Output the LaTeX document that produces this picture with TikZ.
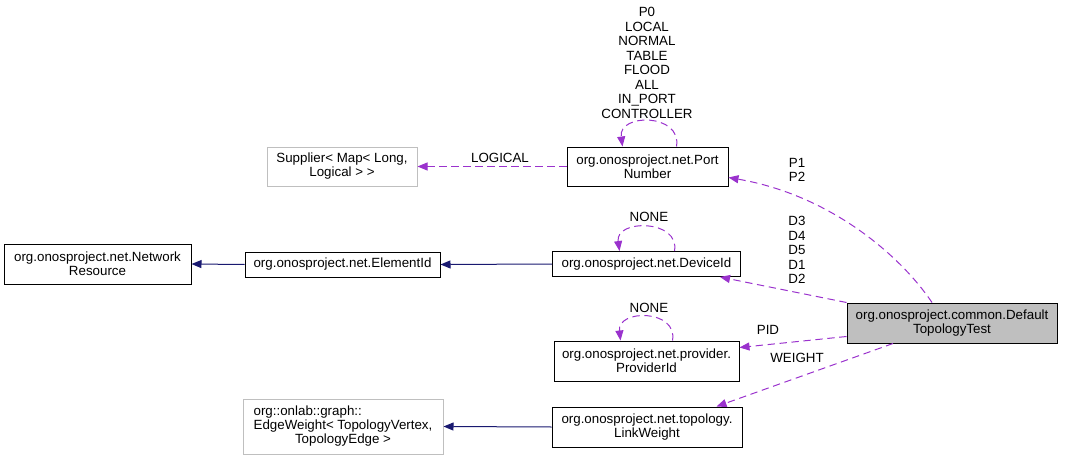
\documentclass[tikz,border=0pt]{standalone}
\usepackage{fontspec}
\setmainfont{Liberation Sans}
\usepackage{tikz}
\usetikzlibrary{arrows.meta}

\definecolor{usecol}{HTML}{9A32CD}
\definecolor{inhcol}{HTML}{191970}
\definecolor{extcol}{HTML}{BFBFBF}
\newcommand{\px}{0.75pt}

\begin{document}
\begin{tikzpicture}[
			x=0.75pt, y=-0.75pt,
			font=\fontsize{10}{10.5}\selectfont,
			classbox/.style={draw, rectangle, fill=white, align=center, inner sep=0pt, line width=0.75pt},
			extbox/.style={classbox, draw=extcol},
			curbox/.style={classbox, fill=extcol},
			inherit/.style={draw=inhcol, line width=0.75pt, -{Triangle[length=7.5pt,width=6pt]}},
			uses/.style={draw=usecol, line width=0.75pt, dash pattern=on 5.5pt off 3.5pt, -{Triangle[length=7.5pt,width=6pt]}},
			lbl/.style={align=center, inner sep=0pt, font=\fontsize{10}{10.9}\selectfont}
			]
			\useasboundingbox (0,0) rectangle (1067,460);

			% classes
			\node[classbox, minimum width=161*\px, minimum height=39*\px] (port) at (647.5,166.5) {org.onosproject.net.Port\\Number};
			\node[extbox, minimum width=150*\px, minimum height=39*\px] (supp) at (342,166.5) {Supplier< Map< Long,\\Logical > >};
			\node[classbox, minimum width=187*\px, minimum height=40*\px] (netres) at (97.5,264) {org.onosproject.net.Network\\Resource};
			\node[classbox, minimum width=195*\px, minimum height=25*\px] (elem) at (342.5,264.5) {org.onosproject.net.ElementId};
			\node[classbox, minimum width=188*\px, minimum height=25*\px] (dev) at (646.5,264) {org.onosproject.net.DeviceId};
			\node[curbox, minimum width=210*\px, minimum height=40*\px] (dtt) at (952,323) {org.onosproject.common.Default\\TopologyTest};
			\node[classbox, minimum width=185*\px, minimum height=40*\px] (prov) at (646.5,361) {org.onosproject.net.provider.\\ProviderId};
			\node[classbox, minimum width=190*\px, minimum height=40*\px] (lw) at (647,427) {org.onosproject.net.topology.\\LinkWeight};
			\node[extbox, minimum width=200*\px, minimum height=55*\px] (edgew) at (343,426.5)
				{\begin{tabular}{@{}l@{}}org::onlab::graph::\\EdgeWeight< TopologyVertex,\\\multicolumn{1}{@{}c@{}}{TopologyEdge >}\end{tabular}};

			% inheritance
			\draw[inherit] (elem.west) -- (netres.east);
			\draw[inherit] (dev.west) -- (elem.east);
			\draw[inherit] (lw.west) -- (edgew.east);

			% usage
			\draw[uses] (port.west) -- (supp.east);
			\node[lbl] (l_logical) at (500,158) {LOGICAL};

			\draw[uses] ([xshift=29*\px]port.north) .. controls (682,113) and (618,113) .. ([xshift=-25*\px]port.north);
			\node[lbl] (l_port) at (647,63) {P0\\LOCAL\\NORMAL\\TABLE\\FLOOD\\ALL\\IN\_PORT\\CONTROLLER};

			\draw[uses] ([xshift=28*\px]dev.north) .. controls (680,219) and (615,219) .. ([xshift=-27*\px]dev.north);
			\node[lbl] (l_dev) at (649,217) {NONE};

			\draw[uses] ([xshift=26*\px]prov.north) .. controls (678,309) and (617,309) .. ([xshift=-26*\px]prov.north);
			\node[lbl] (l_prov) at (649,308) {NONE};

			\draw[uses] ([xshift=-20*\px]dtt.north) .. controls (900,255) and (830,195) .. ([yshift=9*\px]port.south east);
			\node[lbl] (l_p) at (797,170) {P1\\P2};

			\draw[uses] (dtt.north west) -- ([xshift=-21*\px]dev.south east);
			\node[lbl] (l_d) at (797,250) {D3\\D4\\D5\\D1\\D2};

			\draw[uses] ([yshift=7*\px]dtt.south west) -- ([yshift=-7*\px]prov.north east);
			\node[lbl] (l_pid) at (768,330) {PID};

			\draw[uses] ([xshift=-59*\px]dtt.south) -- ([xshift=-26*\px]lw.north east);
			\node[lbl] (l_w) at (797,358) {WEIGHT};

		\end{tikzpicture}
\end{document}
